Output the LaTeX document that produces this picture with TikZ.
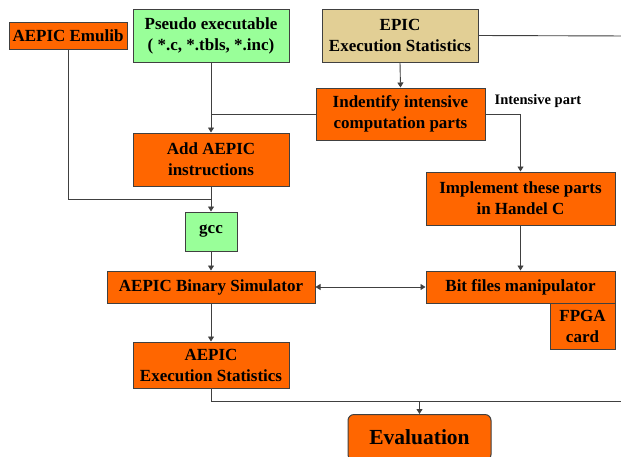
\documentclass[tikz,border=0pt]{standalone}
\usepackage{fontspec}
\setmainfont{Liberation Serif}
\usetikzlibrary{arrows.meta}
\definecolor{orng}{HTML}{FF6600}
\definecolor{grn}{HTML}{99FF99}
\definecolor{tan}{HTML}{E2CF95}
\definecolor{edge}{HTML}{404040}
\tikzset{
  box/.style={draw=edge, line width=1pt, fill=orng, align=center, inner sep=0pt,
    font=\fontsize{17}{21}\selectfont\bfseries, text=black},
  gbox/.style={box, fill=grn},
  tbox/.style={box, fill=tan},
  conn/.style={draw=edge, line width=0.9pt},
  arr/.style={conn, -{Triangle[length=5pt,width=6pt]}},
  darr/.style={conn, {Triangle[length=5pt,width=6pt]}-{Triangle[length=5pt,width=6pt]}},
}
\begin{document}
\begin{tikzpicture}[x=1pt,y=-1pt]
\useasboundingbox (0,0) rectangle (621,456);
\clip (0,0) rectangle (621,456);
\fill[white] (0,0) rectangle (621,456);

\node[box, minimum width=118, minimum height=27] (emulib) at (68,35.5) {AEPIC Emulib};
\node[gbox, minimum width=156, minimum height=53] (pseudo) at (211,35.5) {Pseudo executable\\( *.c, *.tbls, *.inc)};
\node[tbox, minimum width=156, minimum height=53] (epic) at (400,35.5) {EPIC\\Execution Statistics};
\node[box, minimum width=169, minimum height=52] (ident) at (400.5,114) {Indentify intensive\\computation parts};
\node[font=\fontsize{14.5}{16}\selectfont\bfseries, inner sep=0pt] (lbl) at (538,101) {Intensive part};
\node[box, minimum width=156, minimum height=53] (add) at (211,159.5) {Add AEPIC\\instructions};
\node[box, minimum width=189, minimum height=53] (impl) at (520.5,198.5) {Implement these parts\\in Handel C};
\node[gbox, minimum width=52, minimum height=39] (gcc) at (211,231.5) {gcc};
\node[box, minimum width=208, minimum height=32] (sim) at (211,287) {AEPIC Binary Simulator};
\node[box, minimum width=189, minimum height=32] (bit) at (520.5,287) {Bit files manipulator};
\node[box, minimum width=65, minimum height=46] (fpga) at (582.5,326) {FPGA\\card};
\node[box, minimum width=156, minimum height=46] (stats) at (211,365) {AEPIC\\Execution Statistics};
\node[box, rounded corners=6pt, minimum width=143, minimum height=46, anchor=north,
  font=\fontsize{21.5}{25}\selectfont\bfseries] (eval) at (419.5,414) {Evaluation};

\coordinate (r1) at (630,36);
\coordinate (j0) at (211,114);
\coordinate (j1) at (211,199);
\coordinate (j2) at (419.5,401);
\coordinate (r2) at (630,401);

\draw[arr] (epic.south) -- (ident.north);
\draw[arr] (pseudo.south) -- (add.north);
\draw[conn] (ident.west) -- (j0);
\draw[arr] (ident.east) -| (impl.north);
\draw[conn] (emulib.south) |- (j1);
\draw[arr] (add.south) -- (gcc.north);
\draw[arr] (gcc.south) -- (sim.north);
\draw[darr] (sim.east) -- (bit.west);
\draw[arr] (impl.south) -- (bit.north);
\draw[arr] (sim.south) -- (stats.north);
\draw[conn] (stats.south) |- (r2);
\draw[arr] (j2) -- (eval.north);
\draw[conn] (epic.east) -- (r1);
\end{tikzpicture}
\end{document}
